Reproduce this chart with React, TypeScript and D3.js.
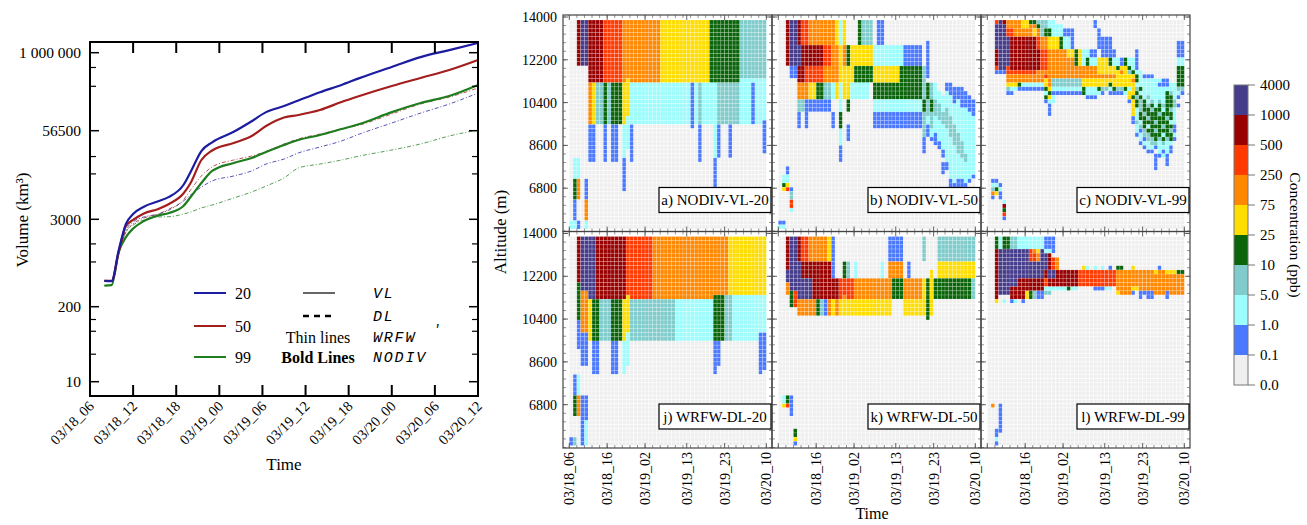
import React from 'react';
import * as d3 from 'd3';

const SERIF = '"Liberation Serif", "Times New Roman", serif';
const MONO = '"Liberation Mono", "DejaVu Sans Mono", monospace';

// ---------- left chart: plume volume (km3), hours after 03/18_06 ----------
const volHours = [2, 3, 4, 5, 6, 7.5, 9.5, 11, 13, 14, 15.5, 17, 20, 22.5, 24.5, 27, 29, 32, 35, 37.5, 42, 46, 50, 54];
const nodiv20 = [444, 440, 1160, 2600, 3570, 4550, 5450, 6300, 9350, 14400, 28800, 38500, 54500, 80000, 112000, 140000, 172000, 233000, 305000, 392000, 590000, 850000, 1100000, 1430000];
const nodiv50 = [444, 444, 1090, 2440, 2940, 3640, 4220, 4980, 7050, 10000, 21400, 29300, 37600, 47400, 67100, 91900, 100700, 121000, 162700, 203000, 293000, 394000, 528000, 764000];
const nodiv99 = [384, 390, 1090, 1730, 2250, 2840, 3400, 3700, 4650, 6280, 10000, 14900, 19400, 22900, 27900, 35200, 41500, 49000, 60100, 72300, 112000, 157000, 203000, 304000];
const wrfw20 = [444, 444, 1090, 2150, 2760, 3240, 3570, 4080, 5500, 6710, 8750, 10700, 12600, 14900, 18700, 22100, 27000, 32900, 40200, 50600, 75000, 108000, 151000, 226000];
const wrfw50 = [450, 450, 1090, 2020, 2600, 3130, 3570, 4220, 5690, 7930, 12600, 17000, 21400, 24400, 28400, 36400, 43000, 50600, 60000, 69700, 104500, 151000, 195000, 272000];
const wrfw99 = [384, 390, 1020, 2020, 2510, 2930, 3240, 3270, 3570, 3820, 4370, 4820, 6080, 7420, 9030, 11800, 16400, 18700, 21400, 24400, 29800, 36400, 47400, 58000];

const volTickValues = [10, 200, 3000, 56500, 1000000];
const volTickLabels = ['10', '200', '3000', '56500', '1 000 000'];
const volMinorTicks = [30, 75, 120, 800, 1400, 13500, 24000, 290000, 580000];
const volTimeLabels = ['03/18_06', '03/18_12', '03/18_18', '03/19_00', '03/19_06', '03/19_12', '03/19_18', '03/20_00', '03/20_06', '03/20_12'];

const blue = '#1c1ca0';
const red = '#a41e1e';
const green = '#1e7d1e';

const volSeries = [
  { key: 'w20', color: blue, bold: false, values: wrfw20 },
  { key: 'w50', color: red, bold: false, values: wrfw50 },
  { key: 'w99', color: green, bold: false, values: wrfw99 },
  { key: 'n99', color: green, bold: true, values: nodiv99 },
  { key: 'n50', color: red, bold: true, values: nodiv50 },
  { key: 'n20', color: blue, bold: true, values: nodiv20 },
];

// ---------- right: concentration curtains (52 hourly columns x 50 levels) ----------
const COLS = 52;
const ROWS = 50;
const levelCodes = '.bctgyormp';
const levelColors = ['#efefef', '#4a78ff', '#9dfcfc', '#80cccc', '#0a640a', '#ffdd00', '#ff8800', '#ff3a00', '#990000', '#463c8c'];
const levelBounds = ['0.0', '0.1', '1.0', '5.0', '10', '25', '75', '250', '500', '1000', '4000'];
const curtainHours = [0, 10, 20, 31, 41, 52];
const curtainLabels = ['03/18_06', '03/18_16', '03/19_02', '03/19_13', '03/19_23', '03/20_10'];
const altitudeTicks = [6800, 8600, 10400, 12200, 14000];
const panelTitles = ['a) NODIV-VL-20', 'b) NODIV-VL-50', 'c) NODIV-VL-99', 'j) WRFW-DL-20', 'k) WRFW-DL-50', 'l) WRFW-DL-99'];

// [firstRow, lastRow, "col-col:level ..."], row 0 is the top; later entries overwrite
type Spec = [number, number, string][];

const panelA: Spec = [
  [0, 10, '2:m 3-4:p 5-8:m 9-13:r 14-23:o 24-36:y 37-44:g 45-51:t'],
  [11, 14, '5-8:m 9-13:r 14-23:o 24-36:y 37-44:g 45-51:t'],
  [14, 14, '15:y 45-51:c'],
  [15, 24, '5:o 6:y 7-8:t 9:g 10:t 11-13:g 14-15:y 16-51:c 32:b 34:t 39-44:t 48:b'],
  [23, 24, '15:c'],
  [24, 24, '51:b'],
  [25, 32, '5-6:b 9:b 11-12:b 14:c 16:b 34:b 38:c 39:b 42:b 51:b'],
  [25, 30, '15:c'],
  [25, 25, '32:b'],
  [32, 32, '51:.'],
  [33, 33, '5-6:b 9:b 11-12:b 16:b 34:b'],
  [33, 39, '38:b'],
  [33, 40, '14:b'],
  [33, 37, '1-2:c'],
  [38, 42, '1:g 2:o 4:b'],
  [43, 47, '1:b 4:o'],
  [48, 49, '0-1:c 2:b 4:c'],
];

const panelB: Spec = [
  [0, 5, '2:m 3-4:p 5:m 6-7:r 8-14:o 15:y 16:c 17:y 21:g 22-24:t 26-27:b'],
  [6, 10, '2:m 3-5:p 6-11:m 12-13:r 14-15:o 16:y 17:o 18:g 19-24:y 25-32:c 33-37:b'],
  [5, 13, '39:b'],
  [11, 13, '3-4:b'],
  [11, 14, '5-6:m 7-11:r 12-15:o 16-19:y 20-24:g 25-31:y 32-37:g 38:t'],
  [15, 18, '5-7:o 8-9:y 10-11:g 12-13:t 14:c 15:y 16:c 17-18:y 19-23:c 25-37:g 38:t 39:g 40:t 41:c'],
  [19, 21, '5-6:t 7-13:b 16:c 18:g 25-37:c'],
  [22, 25, '5:b 7:b 14:b 16:g 25-37:b'],
  [25, 28, '18:b'],
  [26, 29, '16:c'],
  [30, 33, '16:b'],
  [15, 15, '44-45:b'],
  [16, 16, '44-48:b'],
  [17, 17, '42:c 44:c 45-49:b'],
  [18, 18, '42-45:c 46-50:b'],
  [19, 19, '38:g 39:t 40:g 41:t 42-45:c 46:b 47:c 48-51:b'],
  [20, 20, '38:g 39:t 40:g 41-42:t 43-47:c 48-51:b'],
  [21, 21, '38:g 39:t 40:g 41-42:t 43:c 44:t 45-49:c 50-51:b'],
  [22, 22, '38-44:t 45-50:c 51:b'],
  [23, 23, '38:t 39:c 40:t 41:c 42-45:t 46-51:c'],
  [24, 24, '38:t 39:c 40:t 41-42:c 43-45:t 46-51:c'],
  [25, 25, '38:t 39:b 40:t 41-43:c 44-46:t 47-51:c'],
  [26, 26, '38:t 39:b 40-44:c 45-46:t 47-51:c'],
  [27, 27, '38:t 39:b 40:c 41:b 42-44:c 45-47:t 48-51:c'],
  [28, 28, '38:b 40-41:b 42-45:c 46-47:t 48-51:c'],
  [29, 29, '38:b 41-42:b 43-45:c 46-48:t 49-51:c'],
  [30, 30, '38:b 42:b 43-46:c 47-48:t 49-51:c'],
  [31, 31, '38:b 43:b 44-46:c 47-48:t 49-51:c'],
  [32, 32, '43:b 44-47:c 48-49:t 50-51:c'],
  [33, 33, '44-48:c 49:t 50-51:c'],
  [34, 35, '43-44:b 45-51:c'],
  [36, 36, '43:b 45-51:c'],
  [37, 37, '45-50:c 51:b'],
  [38, 38, '45:b 46:c 47-48:b 49:c 50:b'],
  [39, 39, '45-49:b'],
  [35, 36, '2:b'],
  [37, 38, '1-2:c'],
  [39, 39, '1:g 2:y'],
  [40, 40, '1:y 2:r 3:b'],
  [41, 42, '3:t'],
  [43, 44, '3:r'],
  [45, 45, '3:c'],
  [48, 48, '0-1:b'],
  [49, 49, '0-1:c'],
];

const panelC: Spec = [
  [0, 0, '2:r 3:p 4:m 5-8:o 9-10:y 11-12:g 13-15:t 16-17:c 28:b'],
  [1, 1, '2-4:p 5-8:o 9-10:y 11-12:o 13:g 14-15:t 16-19:c 28:b'],
  [2, 3, '2-4:p 5-6:r 7-11:o 12:y 13:o 14:t 15-16:g 17-19:c 20-22:b 29:b'],
  [4, 6, '2-5:p 6-12:m 13:r 14-15:o 16-18:y 19:g 20-21:c 22:b 29-32:b'],
  [7, 10, '2:m 3-5:p 6-13:m 14-15:r 16-22:o 23:g 24:y 25-26:c 27-28:b'],
  [7, 8, '21-22:y 30-33:b 39:b'],
  [9, 10, '25-28:c 26:g 29-31:y 32:g 33-34:c 35:b 36:g 37-38:c 39:b'],
  [5, 8, '50-51:b'],
  [9, 10, '50-51:c'],
  [11, 11, '2:r 3-4:p 5:r 6-13:m 14-15:r 16-28:o 29-33:y 34:g 35-36:y 37:g 38:c 39:b 50-51:g'],
  [12, 12, '2-4:b 5-12:r 13-28:o 29-34:y 35:o 36:y 37:t 38:g 39-40:c 50-51:g'],
  [13, 13, '5-14:o 15:r 16-33:o 34-38:y 39:g 40:c 41-43:b 50-51:g'],
  [14, 14, '5-14:o 15:y 16:o 17-24:t 25-37:y 38:o 39:g 40-45:c 46-47:b 50-51:g'],
  [15, 15, '5-7:y 8:g 9-14:c 15:y 16:o 17-24:t 25-31:y 32:g 33-38:y 39:c 40-44:c 45-47:b 48-49:c 50-51:g'],
  [16, 16, '5:t 6-7:c 8-14:b 15:g 16:y 17-24:c 25:g 26-28:c 29:g 30-31:t 32:c 33:g 34-35:t 36:g 37:c 38:y 39:t 40:g 41-49:c 50-51:t'],
  [17, 17, '5-6:b 15:c 16:g 17-24:b 25:g 26-29:c 30:b 32-35:b 36:c 37-38:y 39:g 40-46:c 47:g 48:t 49-50:c 51:b'],
  [18, 18, '15:g 16:y 17:c 26-28:b 37:y 38:g 39:t 40:g 41:c 42:t 43-46:c 47-48:g 49:c 50:b'],
  [19, 19, '15:b 16-17:c 37:b 38:y 39:g 40:t 41:g 42:c 43:t 44:c 45:t 46:c 47-48:g 49:t'],
  [20, 20, '16:b 38:y 39:g 40:t 41:g 42:t 43:g 44:c 45:g 46:t 47-48:g 49:t 50:b'],
  [21, 21, '16:b 38:y 39:c 40:t 41-42:g 43:t 44-45:g 46:c 47:g 48:t 49:c'],
  [22, 22, '16:b 38:y 39:c 40:g 41:t 42-44:g 45:t 46-48:g 49:c'],
  [23, 23, '38:b 39:c 40-41:g 42:t 43-46:g 47:t 48:g 49:c'],
  [24, 24, '38:b 39:t 40:c 41-43:g 44:t 45-47:g 48-49:c'],
  [25, 25, '39:c 40:t 41:g 42:c 43-45:g 46:t 47-48:g 49:b'],
  [26, 26, '39:c 40:b 41:t 42-43:g 44:t 45-47:g 48:t 49:b'],
  [27, 27, '39:b 40:c 41-42:t 43-45:g 46:c 47-48:g 49:c'],
  [28, 28, '40:c 41:b 42-43:t 44:g 45:t 46:g 47:t 48:g 49:b'],
  [29, 29, '40:b 41-42:c 43-44:t 45:c 46:t 47-48:c'],
  [30, 30, '41:b 42-43:c 44:b 45-47:c 48:b'],
  [31, 31, '42-43:b 45:c 46:b 47:c 48:b'],
  [32, 32, '44-45:b 46:c 47:b'],
  [33, 34, '44:b 47:b'],
  [35, 35, '44:b'],
  [38, 38, '1-2:b'],
  [39, 39, '1-2:c 3:b'],
  [40, 40, '1:t 2:g 3:c'],
  [41, 41, '1:o 2:y 3:b'],
  [42, 42, '1:b 3:b'],
  [43, 43, '4:c'],
  [44, 44, '4:m'],
  [45, 45, '4:g'],
  [46, 46, '4:r'],
  [47, 47, '4:b'],
];

const panelJ: Spec = [
  [0, 12, '2:m 3-6:p 7-14:m 15-21:r 22-41:o 42-51:y'],
  [11, 12, '2:g'],
  [13, 14, '2:g 3-4:o 5-6:p 7-14:m 15-21:r 22-41:o 42-51:y'],
  [14, 14, '15:y 38-40:g 41-42:t 43-51:c'],
  [15, 22, '2:g 3-4:o 5:y 6-7:g 8-10:t 11-13:g 14-15:y 16-27:t 28-37:c 38-40:g 41-42:t 43-51:c'],
  [20, 22, '2:b'],
  [23, 24, '2:b 3-4:b 5:y 6-7:g 8-10:t 11-13:g 14:y 15:c 16-27:t 28-37:c 38-40:g 41-42:t 43-49:c 50-51:b'],
  [25, 26, '2:b 3-4:b 6-7:b 11-12:b 14-15:c 38-39:b 50-51:b'],
  [27, 30, '3-4:b 6-7:b 11-12:b 14-15:c 38-39:b 50-51:b'],
  [31, 31, '6-7:b 11-12:b 14:c 38:b 50-51:b'],
  [32, 32, '6-7:b 11-12:b 14:c 38:b 50:b'],
  [33, 37, '1:b 2:c'],
  [38, 42, '1:g 2:o 3-4:b'],
  [43, 43, '3-4:b'],
  [44, 47, '3:b 4:c'],
  [48, 49, '0:b 1:t 3:b 4:c'],
];

const panelK: Spec = [
  [0, 5, '2:m 3-4:p 5:m 6-7:r 8-12:o 13:y 14:b 29-32:b 38:t 42-51:t'],
  [6, 9, '2:m 3-5:p 6-13:m 14:b 17:g 18:t 20:c 27:c 29-32:o 34:b 42-51:y'],
  [8, 9, '2:p 40:y'],
  [10, 14, '2:p 3-8:p 9-15:m 16-19:r 20-29:o 30-32:g 33-37:o 38:y 39:g 40:y 41-50:g 51:t'],
  [11, 13, '2:o'],
  [13, 14, '3:g 4:r'],
  [14, 14, '2:. 17:o'],
  [15, 18, '5-9:o 10:g 11:t 12:b 13:o 14:y 15:o 16-29:y 33-38:y 39:g 40:y'],
  [15, 16, '3:g 4:r'],
  [19, 19, '39:g'],
  [38, 39, '1:c 2:g 3:b'],
  [40, 40, '1:y 2:r 3:b'],
  [41, 42, '3:b'],
  [46, 47, '4:g'],
  [48, 48, '4:y'],
  [49, 49, '4:b'],
];

const panelL: Spec = [
  [0, 2, '2:g 3:c 4-5:g 6-7:t 8-14:c 15-17:b'],
  [3, 3, '2:m 3-10:p 11:r 12:o 13:y 14:p 15-16:c 17:b'],
  [4, 5, '2:m 3-10:p 11-12:r 13:o 14-15:p 16:m'],
  [5, 7, '17:r 18:o'],
  [6, 7, '2:m 3-14:p 15:p 16:m'],
  [7, 7, '25:y 26:c 28:c 30:c 32:b 34-35:g 38:y 45:b'],
  [8, 9, '2:m 3-14:p 15:m 16-17:p 18-23:m 24-33:r 34-51:o'],
  [8, 8, '44:y 47-49:y 50-51:g'],
  [10, 11, '2:m 3-7:p 8-14:m 15:r 16-23:m 24-33:r 34-51:o'],
  [12, 12, '2:m 3-5:p 6-14:m 15-20:c 21:g 22-23:c 28-30:b 31-32:c 34-37:o 38-39:y 40-51:o'],
  [13, 13, '2:m 3-5:p 6-9:m 10:y 11:g 12:t 13-14:b 15-16:t 34:y 35-37:o 38:b 40-43:b 44-46:o 47:b 48-51:o'],
  [14, 14, '2:m 6-9:m 10:y 11:g 12:t 13-14:b 40:b 42-43:b 47:b'],
  [15, 15, '2:y 4:c 6:b 7:c 9:b'],
  [40, 40, '1:o 3:b'],
  [41, 45, '3:b'],
  [46, 46, '2-3:b'],
  [47, 47, '2:b'],
  [48, 48, '2:c'],
  [49, 49, '2:b'],
];

const panelSpecs = [panelA, panelB, panelC, panelJ, panelK, panelL];

function decodeCurtain(spec: Spec): number[][] {
  const grid = d3.range(ROWS).map(() => new Array(COLS).fill(0));
  spec.forEach(([r0, r1, segs]) => {
    for (let r = r0; r <= r1; r++) {
      segs.trim().split(/\s+/).forEach((tok) => {
        const [range, code] = tok.split(':');
        const parts = range.split('-').map(Number);
        const a = parts[0];
        const b = parts.length > 1 ? parts[1] : a;
        const lvl = levelCodes.indexOf(code);
        for (let c = a; c <= b; c++) grid[r][c] = lvl;
      });
    }
  });
  return grid;
}

// ---------- layout ----------
const VOL = { left: 90, right: 478, top: 42, bottom: 396 };
const PANEL_W = 209;
const PANEL_H = 216.5;
const panelLefts = [563, 772, 981];
const panelTops = [15, 231.5];

const xVol = d3.scaleLinear().domain([0, 54]).range([VOL.left, VOL.right]);
// axis is log-like but its labelled values are not evenly spaced in log: piecewise in log10
const yVol = d3.scaleLinear()
  .domain(volTickValues.map(Math.log10))
  .range([381.7, 306.7, 219.3, 130.7, 52.7]);

function VolumeChart() {
  const line = d3.line<number>()
    .x((_, i) => xVol(volHours[i]))
    .y((d) => yVol(Math.log10(d)))
    .curve(d3.curveMonotoneX);
  const majorX = d3.range(6, 54, 6);
  return (
    <g fontFamily={SERIF}>
      {volSeries.map((s) => (
        <path key={s.key} d={line(s.values) || ''} fill="none" stroke={s.color}
          strokeWidth={s.bold ? 2.2 : 1} strokeDasharray={s.bold ? undefined : '4,2,1,2'}
          opacity={s.bold ? 1 : 0.75} />
      ))}
      <rect x={VOL.left} y={VOL.top} width={VOL.right - VOL.left} height={VOL.bottom - VOL.top}
        fill="none" stroke="#000" strokeWidth={2} />
      {majorX.map((h) => (
        <g key={h}>
          <line x1={xVol(h)} x2={xVol(h)} y1={VOL.bottom} y2={VOL.bottom - 11} stroke="#000" strokeWidth={2} />
          <line x1={xVol(h)} x2={xVol(h)} y1={VOL.top} y2={VOL.top + 11} stroke="#000" strokeWidth={2} />
        </g>
      ))}
      {volTimeLabels.map((t, i) => {
        const x = xVol(i * 6) + 5;
        const y = VOL.bottom + 11;
        return (
          <text key={t} x={x} y={y} fontSize={14.5} textAnchor="end"
            transform={`rotate(-45, ${x}, ${y})`}>{t}</text>
        );
      })}
      {volTickValues.map((v, i) => {
        const y = yVol(Math.log10(v));
        return (
          <g key={v}>
            <line x1={VOL.left} x2={VOL.left + 9} y1={y} y2={y} stroke="#000" strokeWidth={1.5} />
            <line x1={VOL.right} x2={VOL.right - 9} y1={y} y2={y} stroke="#000" strokeWidth={1.5} />
            <text x={VOL.left - 9} y={y} dy="0.35em" fontSize={15.5} textAnchor="end">{volTickLabels[i]}</text>
          </g>
        );
      })}
      {volMinorTicks.map((v) => {
        const y = yVol(Math.log10(v));
        return (
          <g key={v}>
            <line x1={VOL.left} x2={VOL.left + 6} y1={y} y2={y} stroke="#000" strokeWidth={1.2} />
            <line x1={VOL.right} x2={VOL.right - 6} y1={y} y2={y} stroke="#000" strokeWidth={1.2} />
          </g>
        );
      })}
      <text x={28} y={220} fontSize={17} textAnchor="middle" transform="rotate(-90, 28, 220)">Volume (km³)</text>
      <text x={284} y={470} fontSize={17} textAnchor="middle">Time</text>

      {/* legend */}
      {[{ c: blue, t: '20', y: 293 }, { c: red, t: '50', y: 326 }, { c: green, t: '99', y: 357 }].map((d) => (
        <g key={d.t}>
          <line x1={194} x2={226} y1={d.y} y2={d.y} stroke={d.c} strokeWidth={2} />
          <text x={235} y={d.y} dy="0.35em" fontSize={16}>{d.t}</text>
        </g>
      ))}
      <line x1={303} x2={335} y1={293} y2={293} stroke="#000" strokeWidth={1.2} />
      <line x1={303} x2={335} y1={316} y2={316} stroke="#000" strokeWidth={2.5} strokeDasharray="6,5" />
      <text x={318} y={337} dy="0.35em" fontSize={16} textAnchor="middle">Thin lines</text>
      <text x={318} y={357} dy="0.35em" fontSize={16} fontWeight="bold" textAnchor="middle">Bold Lines</text>
      <g fontFamily={MONO} fontStyle="italic" fontSize={15} letterSpacing={1.8}>
        <text x={373} y={293} dy="0.35em">VL</text>
        <text x={373} y={316} dy="0.35em">DL</text>
        <text x={373} y={337} dy="0.35em">WRFW</text>
        <text x={433} y={328} dy="0.35em" fontSize={13}>′</text>
        <text x={373} y={357} dy="0.35em">NODIV</text>
      </g>
    </g>
  );
}

function Curtain({ index }: { index: number }) {
  const col = index % 3;
  const row = Math.floor(index / 3);
  const left = panelLefts[col];
  const top = panelTops[row];
  const right = left + PANEL_W;
  const bottom = top + PANEL_H;
  const grid = decodeCurtain(panelSpecs[index]);
  const xH = d3.scaleLinear().domain([-1.66, 53.5]).range([left, right]);
  const yR = d3.scaleLinear().domain([0, ROWS]).range([top + 5, top + 214]);
  const yAlt = d3.scaleLinear().domain([5000, 14000]).range([top + 216, top + 2]);
  const cells: React.ReactNode[] = [];
  grid.forEach((cols, r) => {
    cols.forEach((lvl, c) => {
      cells.push(
        <rect key={`${r}-${c}`} x={xH(c)} y={yR(r)} width={xH(c + 1) - xH(c)} height={yR(r + 1) - yR(r)}
          fill={levelColors[lvl]} stroke="#fff" strokeWidth={0.5} strokeOpacity={lvl === 0 ? 0.8 : 0.35} />
      );
    });
  });
  const minorX = d3.range(0, 53, 2);
  const minorY = d3.range(5000, 14001, 360);
  const showX = row === 1;
  const labelIdx = col === 0 ? d3.range(curtainHours.length) : d3.range(1, curtainHours.length);
  return (
    <g fontFamily={SERIF}>
      {cells}
      {minorX.map((h) => (
        <g key={`mx${h}`} stroke="#666" strokeWidth={0.7}>
          <line x1={xH(h)} x2={xH(h)} y1={top} y2={top + 3} />
          <line x1={xH(h)} x2={xH(h)} y1={bottom} y2={bottom - 3} />
        </g>
      ))}
      {minorY.map((a) => (
        <g key={`my${a}`} stroke="#666" strokeWidth={0.7}>
          <line x1={left} x2={left + 3} y1={yAlt(a)} y2={yAlt(a)} />
          <line x1={right} x2={right - 3} y1={yAlt(a)} y2={yAlt(a)} />
        </g>
      ))}
      {altitudeTicks.map((a) => (
        <g key={`ay${a}`} stroke="#555" strokeWidth={0.9}>
          <line x1={left} x2={left + 5} y1={yAlt(a)} y2={yAlt(a)} />
          <line x1={right} x2={right - 5} y1={yAlt(a)} y2={yAlt(a)} />
        </g>
      ))}
      {curtainHours.map((h) => (
        <g key={`ax${h}`} stroke="#555" strokeWidth={0.9}>
          <line x1={xH(h)} x2={xH(h)} y1={bottom} y2={bottom - 5} />
          <line x1={xH(h)} x2={xH(h)} y1={top} y2={top + 5} />
        </g>
      ))}
      <rect x={left} y={top} width={PANEL_W} height={PANEL_H} fill="none" stroke="#444" strokeWidth={1.2} />
      <rect x={right - 113} y={bottom - 44} width={112} height={25} fill="#fff" stroke="#000" strokeWidth={1.2} />
      <text x={right - 57} y={bottom - 31.5} dy="0.35em" fontSize={15} textAnchor="middle">{panelTitles[index]}</text>
      {col === 0 && altitudeTicks.map((a) => (
        <text key={`al${a}`} x={557} y={yAlt(a)} dy="0.35em" fontSize={14} textAnchor="end">{a}</text>
      ))}
      {showX && labelIdx.map((i) => {
        const x = xH(curtainHours[i]);
        const y = bottom + 4;
        return (
          <text key={`tl${i}`} x={x} y={y} dy="0.35em" fontSize={14} textAnchor="end"
            transform={`rotate(-90, ${x}, ${y})`}>{curtainLabels[i]}</text>
        );
      })}
    </g>
  );
}

function ColorBar() {
  const y = d3.scaleLinear().domain([0, levelColors.length]).range([385, 85]);
  const x0 = 1234;
  const w = 14;
  return (
    <g fontFamily={SERIF}>
      {levelColors.map((c, i) => (
        <rect key={c} x={x0} y={y(i + 1)} width={w} height={y(i) - y(i + 1)} fill={c} />
      ))}
      <rect x={x0} y={85} width={w} height={300} fill="none" stroke="#777" strokeWidth={1} />
      {levelBounds.map((t, i) => (
        <g key={t}>
          <line x1={x0 + w} x2={x0 + w + 7} y1={y(i)} y2={y(i)} stroke="#777" strokeWidth={1} />
          <text x={x0 + w + 12} y={y(i)} dy="0.35em" fontSize={15}>{t}</text>
        </g>
      ))}
      <text x={1290} y={235} fontSize={15.5} textAnchor="middle" transform="rotate(90, 1290, 235)">Concentration (ppb)</text>
    </g>
  );
}

export default function App() {
  return (
    <svg width={1307} height={525} style={{ position: 'absolute', left: 0, top: 0, background: '#fff' }}>
      <rect width={1307} height={525} fill="#fff" />
      <VolumeChart />
      {d3.range(6).map((i) => <Curtain key={i} index={i} />)}
      <text x={506} y={232} fontSize={17} fontFamily={SERIF} textAnchor="middle" transform="rotate(-90, 506, 232)">Altitude (m)</text>
      <text x={872} y={519} fontSize={16} fontFamily={SERIF} textAnchor="middle">Time</text>
      <ColorBar />
    </svg>
  );
}
